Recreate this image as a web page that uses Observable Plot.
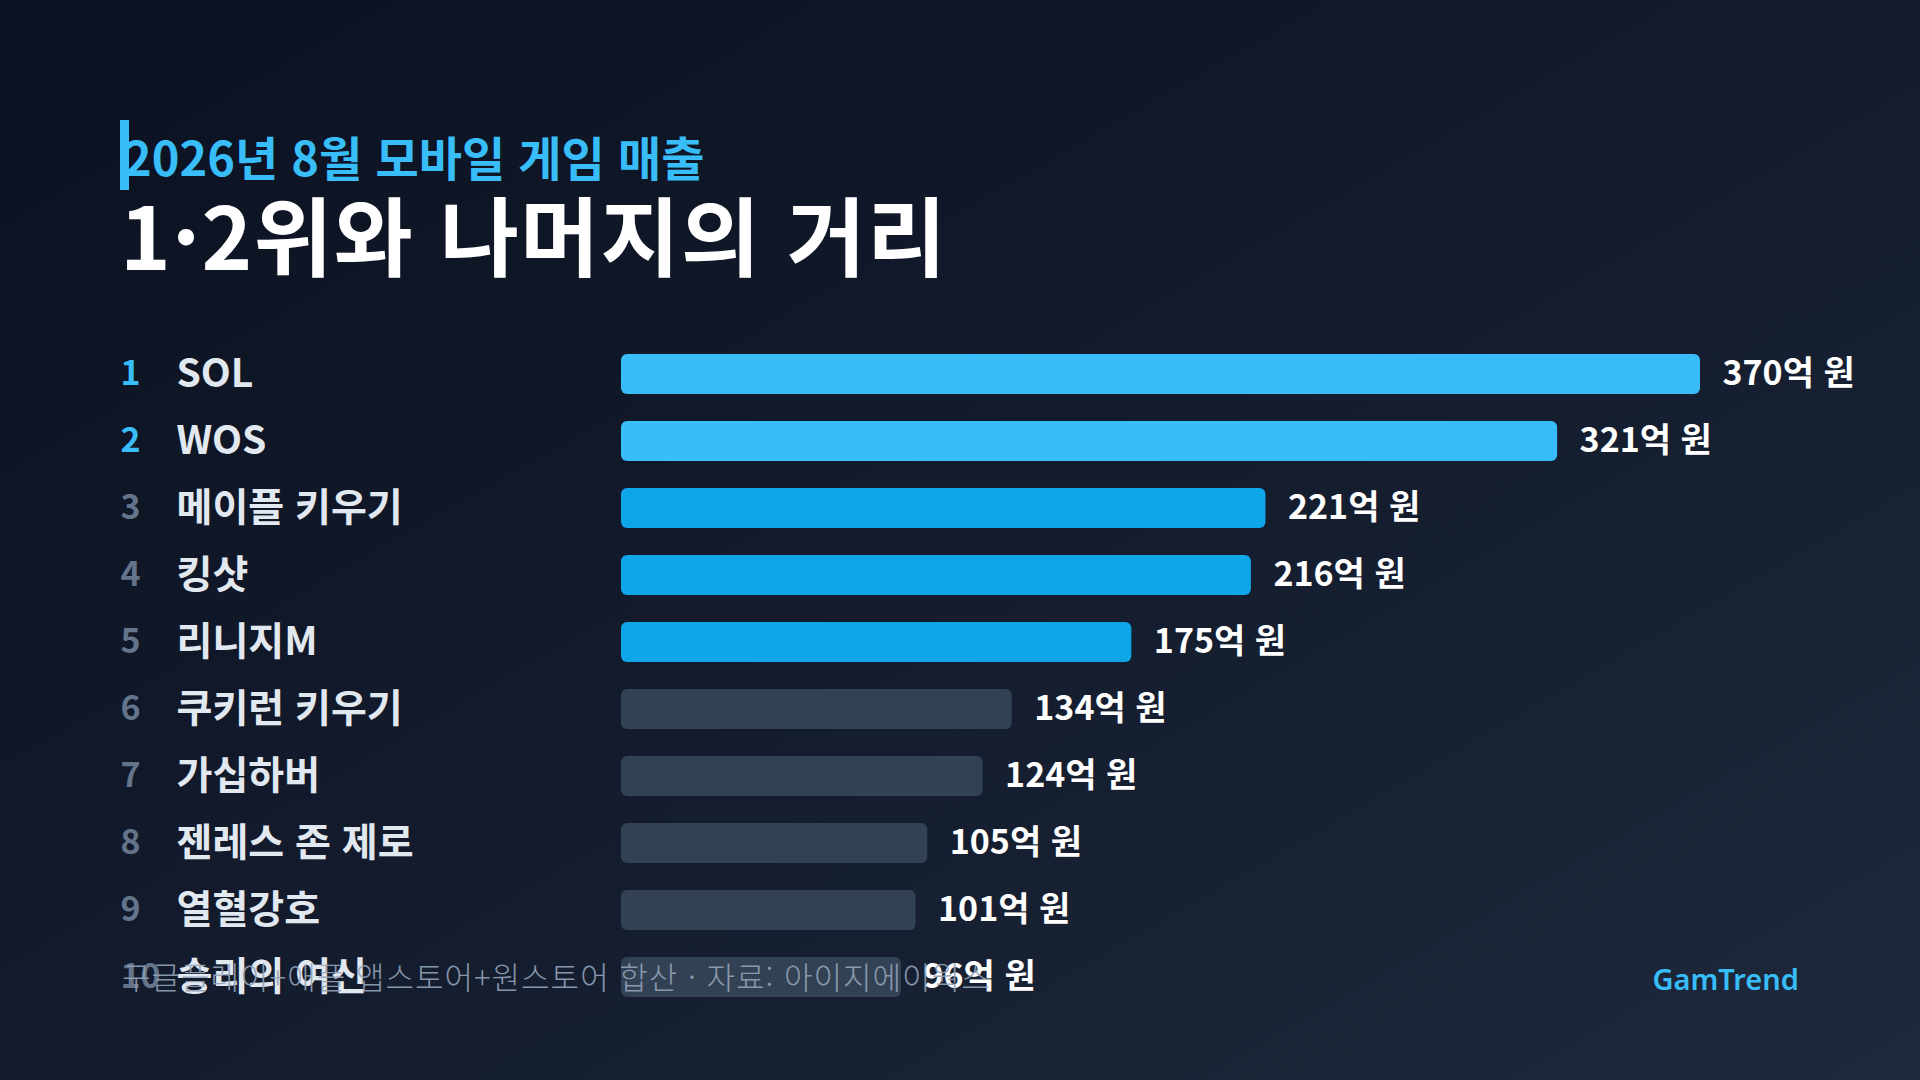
<!DOCTYPE html>
<html lang="ko">
<head>
<meta charset="utf-8">
<script src="https://cdn.jsdelivr.net/npm/d3@7"></script>
<script src="https://cdn.jsdelivr.net/npm/@observablehq/plot@0.6"></script>
<style>
  html, body { margin: 0; padding: 0; background: #0f172a; }
  #stage {
    position: relative; width: 1920px; height: 1080px; overflow: hidden;
    background: linear-gradient(150deg, #0b1120 0%, #121a2b 45%, #1e293b 100%);
    font-family: "Noto Sans CJK KR", "Noto Sans", sans-serif;
  }
  #header { position: relative; height: 320px; }
  .accent { position: absolute; left: 120px; top: 120px; width: 9px; height: 70px; background: #38bdf8; }
  .kicker { position: absolute; left: 124px; top: 132px; font-size: 47px; font-weight: 600; color: #38bdf8; line-height: 1; white-space: nowrap; }
  .title { position: absolute; left: 120px; top: 190px; font-size: 86px; font-weight: 700; color: #ffffff; line-height: 1; white-space: nowrap; letter-spacing: 1.3px; }
  #chart svg { display: block; }
  .caption { position: absolute; left: 122px; top: 960px; font-size: 31px; font-weight: 300; color: #94a3b8; opacity: 0.9; line-height: 1; white-space: nowrap; letter-spacing: 1px; }
  .brand { position: absolute; right: 121px; top: 964px; font-size: 29px; font-weight: 600; color: #38bdf8; line-height: 1; white-space: nowrap; font-family: "Noto Sans", sans-serif; }
</style>
</head>
<body>
<div id="stage">
  <div id="header">
    <div class="kicker">2026년 8월 모바일 게임 매출</div>
    <div class="accent"></div>
    <div class="title">1·2위와 나머지의 거리</div>
  </div>
  <div id="chart"></div>
  <div class="caption">구글플레이+애플 앱스토어+원스토어 합산 · 자료: 아이지에이웍스</div>
  <div class="brand">GamTrend</div>
</div>
<script>
const ranks = [1, 2, 3, 4, 5, 6, 7, 8, 9, 10];
const games = ["SOL", "WOS", "메이플 키우기", "킹샷", "리니지M", "쿠키런 키우기", "가십하버", "젠레스 존 제로", "열혈강호", "승리의 여신"];
const revenue = [370, 321, 221, 216, 175, 134, 124, 105, 101, 96];
const tiers = ["선두", "상위", "기타"];

const data = ranks.map((r, i) => ({
  rank: r,
  game: games[i],
  value: revenue[i],
  tier: r <= 2 ? tiers[0] : r <= 5 ? tiers[1] : tiers[2]
}));

const font = "'Noto Sans CJK KR', 'Noto Sans', sans-serif";

const chart = Plot.plot({
  width: 1920,
  height: 760,
  marginLeft: 120,
  marginRight: 120,
  marginTop: 0,
  marginBottom: 0,
  style: { background: "transparent", fontFamily: font, overflow: "visible" },
  x: { domain: [0, 370], range: [621, 1700], axis: null },
  y: { domain: ranks, range: [16, 693.7], paddingInner: 0.41, paddingOuter: 0.205, axis: null },
  color: { domain: tiers, range: ["#38bdf8", "#0ea5e9", "#334155"] },
  marks: [
    Plot.barX(data, { x: "value", y: "rank", fill: "tier", rx: 6 }),
    Plot.text(data, {
      filter: d => d.rank <= 2, y: "rank", text: d => String(d.rank),
      frameAnchor: "left", textAnchor: "start", fill: "#38bdf8",
      fontSize: 34, fontWeight: 600, fontFamily: font
    }),
    Plot.text(data, {
      filter: d => d.rank > 2, y: "rank", text: d => String(d.rank),
      frameAnchor: "left", textAnchor: "start", fill: "#64748b",
      fontSize: 34, fontWeight: 600, fontFamily: font
    }),
    Plot.text(data, {
      y: "rank", text: "game", frameAnchor: "left", textAnchor: "start", dx: 56,
      fill: "#e2e8f0", fontSize: 39, fontWeight: 600, fontFamily: font
    }),
    Plot.text(data, {
      x: "value", y: "rank", text: d => `${d.value}억 원`, textAnchor: "start", dx: 22,
      fill: "#ffffff", fontSize: 34, fontWeight: 700, fontFamily: font
    })
  ]
});

document.getElementById("chart").appendChild(chart);
</script>
</body>
</html>
